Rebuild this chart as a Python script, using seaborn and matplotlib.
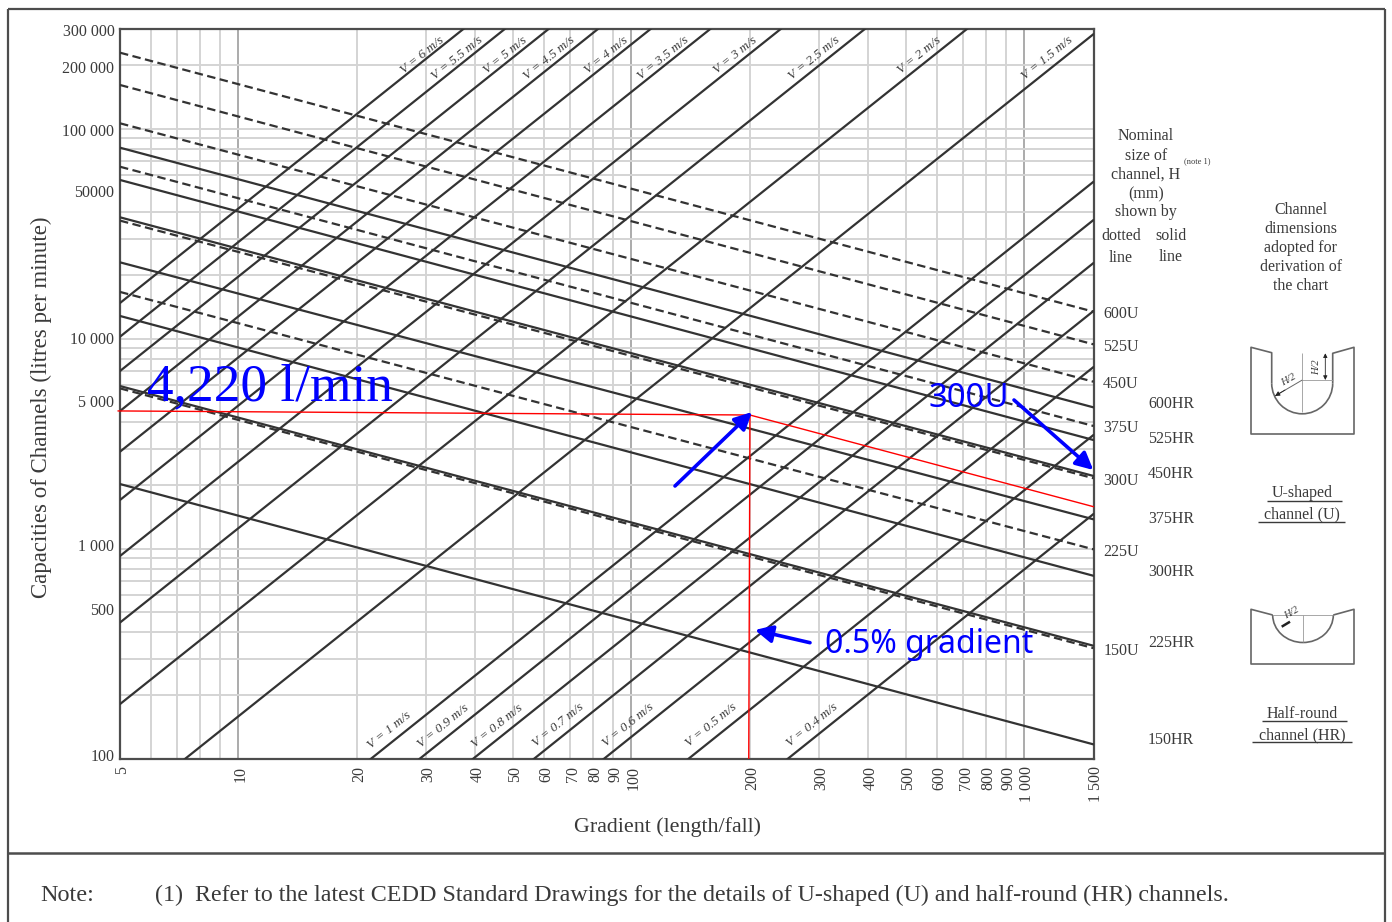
import matplotlib
matplotlib.use("Agg")
import matplotlib.pyplot as plt
from matplotlib.lines import Line2D
from matplotlib.patches import Arc
from matplotlib.transforms import ScaledTranslation
import pandas as pd
import seaborn as sns

# capacity lines, litres per minute at gradient 1:5 and 1:1500
u_names = ["600U", "525U", "450U", "375U", "300U", "225U", "150U"]
u_q_start = [230100, 161500, 106100, 65900, 36500, 16700, 5800]
u_q_end = [13450, 9400, 6240, 3840, 2165, 993, 336]

hr_names = ["600HR", "525HR", "450HR", "375HR", "300HR", "225HR", "150HR"]
hr_q_start = [81200, 57000, 37850, 23100, 12830, 5950, 2032]
hr_q_end = [4710, 3293, 2220, 1380, 743, 345, 117]

# velocity lines, same two gradients (they run out of the axes, which clip them)
v_names = ["6", "5.5", "5", "4.5", "4", "3.5", "3", "2.5", "2", "1.5",
           "1", "0.9", "0.8", "0.7", "0.6", "0.5", "0.4"]
v_q_start = [14790, 10220, 7016, 4525, 2897, 1706, 923, 445, 182, 56.5,
             11.1, 7.22, 4.53, 2.64, 1.43, 0.684, 0.284]
v_q_end = [74000000, 52100000, 35100000, 22960000, 14290000, 8530000, 4600000,
           2200000, 902000, 282000, 55900, 36750, 22930, 13550, 7330, 3480, 1463]

# worked example in red
red_gradient = [4.94, 200.4, 1500]
red_q = [4529, 4331, 1585]
red_drop_gradient = [199, 200.4]
red_drop_q = [100, 4331]

gradient_range = [5, 1500]
x_ticks = [5, 10, 20, 30, 40, 50, 60, 70, 80, 90, 100, 200, 300, 400, 500, 600, 700, 800, 900, 1000, 1500]
x_tick_labels = ["5", "10", "20", "30", "40", "50", "60", "70", "80", "90", "100", "200", "300",
                 "400", "500", "600", "700", "800", "900", "1 000", "1 500"]
x_light_grid = [6, 7, 8, 9, 20, 30, 40, 50, 60, 70, 80, 90, 200, 300, 400, 500, 600, 700, 800, 900]
x_dark_grid = [10, 100, 1000]

y_ticks = [100, 500, 1000, 5000, 10000, 50000, 100000, 200000, 300000]
y_tick_labels = ["100", "500", "1 000", "5 000", "10 000", "50000", "100 000", "200 000", "300 000"]
y_grid = [200, 300, 400, 500, 600, 700, 800, 900, 1000, 2000, 3000, 4000, 6000, 7000, 8000, 9000,
          10000, 20000, 30000, 40000, 60000, 70000, 80000, 90000, 100000, 200000]

sns.set_style("white")
plt.rcParams["font.family"] = ["Liberation Serif", "DejaVu Serif"]

INK = "#3a3a3a"
LINE = "#333333"
BLUE = "#0000ff"

fig = plt.figure(figsize=(13.92, 9.22), dpi=100)
ax = fig.add_axes([120 / 1392, 1 - 758.7 / 922, 973.5 / 1392, 730.2 / 922])
ax.set_xscale("log")
ax.set_yscale("log")
ax.set_xlim(5, 1500)
ax.set_ylim(100, 300000)

for g in x_light_grid:
    ax.axvline(g, color="#d4d4d4", linewidth=1.4, zorder=1)
for g in x_dark_grid:
    ax.axvline(g, color="#ababab", linewidth=1.4, zorder=1)
for q in y_grid:
    ax.axhline(q, color="#d4d4d4", linewidth=1.4, zorder=1)

for q0, q1 in zip(v_q_start, v_q_end):
    sns.lineplot(x=gradient_range, y=[q0, q1], ax=ax, color=LINE, linewidth=1.6,
                 estimator=None, legend=False, zorder=3)
for q0, q1 in zip(hr_q_start, hr_q_end):
    sns.lineplot(x=gradient_range, y=[q0, q1], ax=ax, color=LINE, linewidth=1.6,
                 estimator=None, legend=False, zorder=3)
for q0, q1 in zip(u_q_start, u_q_end):
    sns.lineplot(x=gradient_range, y=[q0, q1], ax=ax, color=LINE, linewidth=1.6,
                 linestyle=(0, (3.8, 2)), estimator=None, legend=False, zorder=3)

red_df = pd.DataFrame({"gradient": red_gradient, "capacity": red_q})
sns.lineplot(data=red_df, x="gradient", y="capacity", ax=ax, color="#ff0000", linewidth=1.0,
             estimator=None, sort=False, legend=False, zorder=4, clip_on=False)
sns.lineplot(x=red_drop_gradient, y=red_drop_q, ax=ax, color="#ff0000", linewidth=1.0,
             estimator=None, sort=False, legend=False, zorder=4)

ax.set_xticks(x_ticks, x_tick_labels, rotation=90, va="top", ha="center")
ax.set_yticks(y_ticks, y_tick_labels)
ax.minorticks_off()
ax.tick_params(axis="x", length=0, pad=5, labelsize=11.5, labelcolor=INK)
ax.tick_params(axis="y", length=0, pad=4, labelsize=11.5, labelcolor=INK)
ax.set_xlabel("")
ax.set_ylabel("")
for spine in ax.spines.values():
    spine.set_color("#4d4d4d")
    spine.set_linewidth(1.6)

# nudge tick labels, the scanned chart does not centre them on the gridlines
for tick_text in ax.get_xticklabels():
    tick_text.set_transform(tick_text.get_transform() + ScaledTranslation(2.5 / 100, 0, fig.dpi_scale_trans))
y_label_nudge = [3.5, 3, 3.5, 1, 0.5, 1, -1, -2, -1]
for tick_text, nudge in zip(ax.get_yticklabels(), y_label_nudge):
    tick_text.set_transform(tick_text.get_transform() + ScaledTranslation(0, nudge / 100, fig.dpi_scale_trans))

# the size labels sit on the right hand end of the dashed lines
for name, q in zip(u_names, u_q_end):
    ax.annotate(name, xy=(1500, q), xytext=(7, -1.8), textcoords="offset points",
                va="center", ha="left", fontsize=11.5, color=INK, annotation_clip=False)

# everything outside the plot goes on an overlay counted in image pixels
ov = fig.add_axes([0, 0, 1, 1], zorder=10)
ov.set_xlim(0, 1392)
ov.set_ylim(922, 0)
ov.axis("off")
ov.patch.set_alpha(0)


def label(x, y, s, size=11.5, **kw):
    kw.setdefault("color", INK)
    kw.setdefault("ha", "center")
    kw.setdefault("va", "center")
    ov.text(x, y, s, fontsize=size, **kw)


def stroke(xs, ys, lw=1.0, color="#666666"):
    ov.add_line(Line2D(xs, ys, color=color, linewidth=lw, solid_capstyle="butt"))


# frame of the drawing sheet
stroke([8, 8], [9, 922], lw=1.6, color="#4d4d4d")
stroke([8, 1384.5], [9, 9], lw=1.6, color="#4d4d4d")
stroke([1384.5, 1384.5], [9, 922], lw=1.6, color="#4d4d4d")
stroke([8, 1384.5], [852.7, 852.7], lw=1.8, color="#4d4d4d")

label(41, 407, "Capacities of Channels (litres per minute)", size=16.5, rotation=90)
label(668, 827.5, "Gradient (length/fall)", size=15.8)

v_label_x = [420.7, 456, 504, 547.3, 605, 661.7, 733.7, 812.3, 918, 1045.7,
             388.3, 441.7, 495.3, 557, 627, 710, 810.3]
v_label_y = [55, 58, 55, 58.3, 55.3, 58.3, 55.3, 58.3, 55.3, 58.3,
             730.7, 726, 726, 725.3, 725.3, 725.3, 725.3]
for name, lx, ly in zip(v_names, v_label_x, v_label_y):
    label(lx + 1.5, ly, f"V = {name} m/s", size=9.5, rotation=39, rotation_mode="anchor", style="italic")

hr_label_y = [404.2, 438.8, 473.8, 519.2, 571.5, 643.2, 739.8]
for name, ly in zip(hr_names, hr_label_y):
    label(1148, ly, name, ha="left")

for ly, s in zip([136.5, 155.5, 174.8, 194.2, 212.2], ["Nominal", "size of", "channel, H", "(mm)", "shown by"]):
    label(1145.7, ly, s)
label(1197.3, 161.3, "(note 1)", size=6)
label(1121, 236, "dotted")
label(1121, 257.5, "line")
label(1171, 235.5, "solid")
label(1171, 256.5, "line")
for ly, s in zip([209.8, 228.5, 247.5, 266.8, 285.5],
                 ["Channel", "dimensions", "adopted for", "derivation of", "the chart"]):
    label(1300.7, ly, s)

label(1302, 493.2, "U-shaped")
label(1302, 514.8, "channel (U)")
stroke([1266.7, 1341.7], [500.7, 500.7], color=INK)
stroke([1258.3, 1345], [522.3, 522.3], color=INK)
label(1302, 714.2, "Half-round")
label(1302, 735.5, "channel (HR)")
stroke([1261.7, 1346.7], [720.7, 720.7], color=INK)
stroke([1252.3, 1351.7], [742.3, 742.3], color=INK)

# U-shaped section sketch
stroke([1271.7, 1271.7, 1251, 1251, 1354, 1354, 1332.7, 1332.7],
       [383.3, 352.7, 347.3, 434, 434, 347.3, 353.3, 383.3], lw=1.2)
ov.add_patch(Arc((1302.2, 383.3), 61, 61, theta1=0, theta2=180, color="#666666", linewidth=1.2))
stroke([1302.3, 1302.3], [353, 412], lw=0.6, color="#999999")
stroke([1302.3, 1332.7], [380, 380], lw=0.6, color="#999999")
stroke([1302.3, 1275], [380, 396], lw=0.7)
ov.annotate("", xy=(1275, 396), xytext=(1285, 390),
            arrowprops=dict(arrowstyle="-|>", color="#222222", lw=0.6, mutation_scale=7, shrinkA=0, shrinkB=0))
ov.annotate("", xy=(1325.3, 353.3), xytext=(1325.3, 380),
            arrowprops=dict(arrowstyle="<|-|>", color="#222222", lw=0.6, mutation_scale=6, shrinkA=0, shrinkB=0))
label(1288.3, 380, "H/2", size=7.5, rotation=30, style="italic")
label(1316.7, 367.3, "H/2", size=7.5, rotation=90, style="italic")

# half-round section sketch
stroke([1272.7, 1251, 1251, 1354, 1354, 1333.3],
       [615, 609.3, 664, 664, 609.3, 615], lw=1.2)
ov.add_patch(Arc((1303, 615), 60.6, 55, theta1=0, theta2=180, color="#666666", linewidth=1.2))
stroke([1303, 1303], [615, 642], lw=0.6, color="#999999")
stroke([1272.7, 1333.3], [615, 615], lw=0.6, color="#999999")
stroke([1281.7, 1290], [626.7, 621.7], lw=1.8, color="#222222")
label(1291.7, 613.3, "H/2", size=7.5, rotation=30, style="italic")

# note under the chart
label(40, 895, "Note:", size=17.4, ha="left")
label(155, 895, "(1)", size=17.4, ha="left")
label(195, 895, "Refer to the latest CEDD Standard Drawings for the details of U-shaped (U) and half-round (HR) channels.",
      size=17.3, ha="left")

# blue mark-up
label(147, 400, "4,220 l/min", size=38.3, color=BLUE, ha="left", va="baseline")
label(928, 407, "300U", size=23.7, color=BLUE, ha="left", va="baseline", family=["Noto Sans", "DejaVu Sans"])
label(825, 653, "0.5% gradient", size=23, color=BLUE, ha="left", va="baseline", family=["Noto Sans", "DejaVu Sans"])

arrow_style = dict(arrowstyle="-|>", color=BLUE, lw=2.6, mutation_scale=26, shrinkA=0, shrinkB=0)
ov.annotate("", xy=(752, 412), xytext=(675, 486), arrowprops=arrow_style)
ov.annotate("", xy=(1093.3, 470), xytext=(1014, 400), arrowprops=arrow_style)
ov.annotate("", xy=(755, 630), xytext=(810, 642.7), arrowprops=arrow_style)

fig.savefig("out.png", dpi=100)
